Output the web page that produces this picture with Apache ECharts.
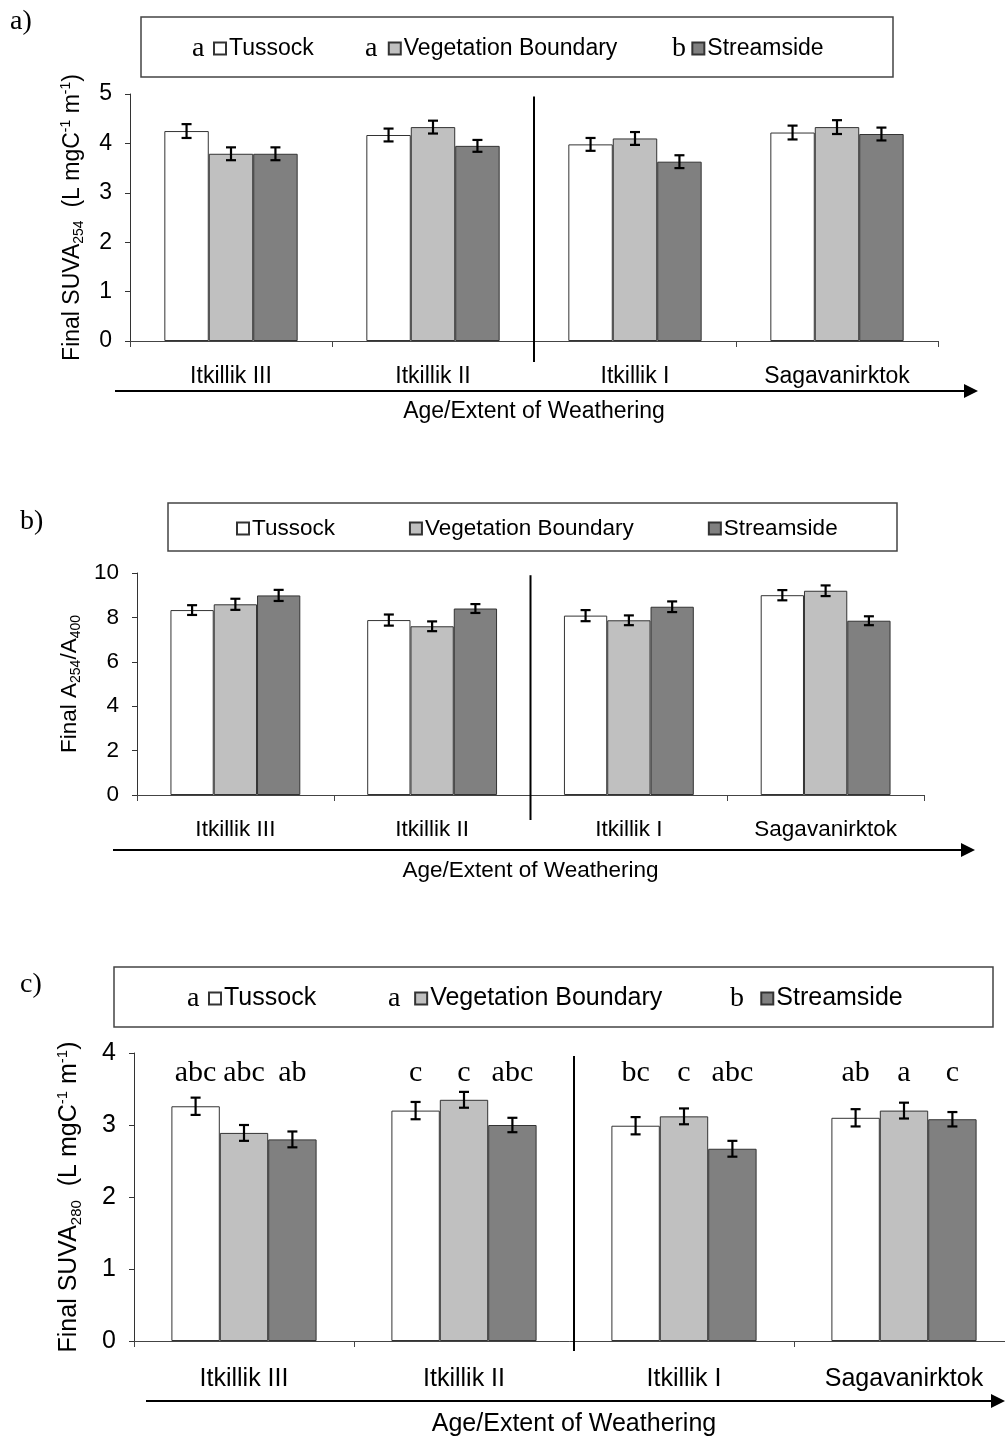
<!DOCTYPE html>
<html>
<head>
<meta charset="UTF-8">
<title>Final SUVA and A254/A400 by site</title>
<script src="https://cdn.jsdelivr.net/npm/echarts@6/dist/echarts.min.js"></script>
<style>body{margin:0;background:#fff}</style>
</head>
<body>
<div id="main" style="width:1005px;height:1439px;"></div>
<script type="text/javascript">
var categories = ['Itkillik III', 'Itkillik II', 'Itkillik I', 'Sagavanirktok'];
var siteNames = ['Tussock', 'Vegetation Boundary', 'Streamside'];
var siteColors = ['#ffffff', '#c0c0c0', '#808080'];

// a) final SUVA254, one row per site (Tussock, Vegetation Boundary, Streamside)
var suva254 = [[4.25, 4.17, 3.98, 4.22], [3.79, 4.33, 4.10, 4.33], [3.79, 3.95, 3.63, 4.19]];
var suva254Err = [[0.14, 0.13, 0.13, 0.14], [0.13, 0.13, 0.13, 0.14], [0.13, 0.12, 0.13, 0.13]];

// b) final A254/A400
var ratio = [[8.33, 7.88, 8.08, 9.00], [8.59, 7.60, 7.87, 9.20], [8.99, 8.40, 8.48, 7.85]];
var ratioErr = [[0.22, 0.25, 0.25, 0.23], [0.25, 0.22, 0.22, 0.24], [0.25, 0.20, 0.24, 0.20]];

// c) final SUVA280
var suva280 = [[3.26, 3.20, 2.99, 3.10], [2.89, 3.35, 3.12, 3.20], [2.80, 3.00, 2.67, 3.08]];
var suva280Err = [[0.12, 0.12, 0.12, 0.12], [0.11, 0.11, 0.11, 0.11], [0.11, 0.10, 0.11, 0.10]];
var suva280Letters = [['abc', 'c', 'bc', 'ab'], ['abc', 'c', 'c', 'a'], ['ab', 'abc', 'abc', 'c']];

var legendLetters = ['a', 'a', 'b'];
var xName = 'Age/Extent of Weathering';

var SANS = '"Liberation Sans", Arial, sans-serif';
var SERIF = '"Liberation Serif", "Times New Roman", serif';
var BAR_PCT = 0.22;

var panels = [
  {
    tag: 'a)', tagPos: [10, 22],
    grid: { left: 130, top: 94, width: 808, height: 247 },
    max: 5, interval: 1, values: suva254, errs: suva254Err, font: 23,
    yName: '{t|Final SUVA}{s|254}{t|  (L mgC}{p|-1}{t| m}{p|-1}{t|)}', yGap: 44,
    labelMargin: 24, xGap: 59, sepExt: 21,
    box: [141, 17, 752, 60], legend: { left: 213, top: 37, gap: 74 },
    letters: legendLetters, letterX: [192, 365, 672],
    arrow: [115, 978, 391]
  },
  {
    tag: 'b)', tagPos: [20, 522],
    grid: { left: 137, top: 573, width: 787, height: 222 },
    max: 10, interval: 2, values: ratio, errs: ratioErr, font: 22.5,
    yName: '{t|Final A}{s|254}{t|/A}{s|400}', yGap: 52,
    labelMargin: 23, xGap: 64, sepExt: 25,
    box: [168, 503, 729, 48], legend: { left: 236, top: 517, gap: 74 },
    letters: null,
    arrow: [113, 975, 850]
  },
  {
    tag: 'c)', tagPos: [20, 985],
    grid: { left: 134, top: 1053, width: 880, height: 288 },
    max: 4, interval: 1, values: suva280, errs: suva280Err, font: 25,
    yName: '{t|Final SUVA}{s|280}{t|  (L mgC}{p|-1}{t| m}{p|-1}{t|)}', yGap: 50,
    labelMargin: 26, xGap: 71, sepExt: 10,
    box: [114, 967, 879, 60], legend: { left: 208, top: 986, gap: 98 },
    letters: legendLetters, letterX: [187, 388, 730],
    arrow: [146, 1005, 1401],
    barLetters: suva280Letters, letterLevel: 3.72
  }
];

function errorBarRender(params, api) {
  var cat = api.value(0), v = api.value(1), e = api.value(2), s = api.value(3);
  var band = api.size([1, 0])[0];
  var hi = api.coord([cat, v + e]);
  var lo = api.coord([cat, v - e]);
  var x = hi[0] + (s - 1) * band * BAR_PCT;
  var cap = 5;
  var st = { stroke: '#000', lineWidth: 2.2 };
  return {
    type: 'group',
    children: [
      { type: 'line', shape: { x1: x, y1: hi[1], x2: x, y2: lo[1] }, style: st },
      { type: 'line', shape: { x1: x - cap, y1: hi[1], x2: x + cap, y2: hi[1] }, style: st },
      { type: 'line', shape: { x1: x - cap, y1: lo[1], x2: x + cap, y2: lo[1] }, style: st }
    ]
  };
}

function separatorRender(ext) {
  return function (params, api) {
    var cat = api.value(0), top = api.value(1);
    var p1 = api.coord([cat, top]);
    var p2 = api.coord([cat + 1, top]);
    var base = api.coord([cat, 0]);
    var x = (p1[0] + p2[0]) / 2;
    return {
      type: 'line',
      shape: { x1: x, y1: p1[1], x2: x, y2: base[1] + ext },
      style: { stroke: '#000', lineWidth: 2 }
    };
  };
}

function letterRender(letters) {
  return function (params, api) {
    var cat = api.value(0), lvl = api.value(1), s = api.value(2);
    var band = api.size([1, 0])[0];
    var p = api.coord([cat, lvl]);
    return {
      type: 'text',
      x: p[0] + (s - 1) * band * BAR_PCT,
      y: p[1],
      style: {
        text: letters[s][cat], fill: '#000', fontSize: 30, fontFamily: SERIF,
        align: 'center', verticalAlign: 'middle'
      }
    };
  };
}

var option = {
  backgroundColor: '#fff',
  animation: false,
  grid: [], xAxis: [], yAxis: [], legend: [], series: [], graphic: []
};

panels.forEach(function (pn, i) {
  option.grid.push(Object.assign({ outerBoundsMode: 'none', containLabel: false }, pn.grid));

  option.xAxis.push({
    type: 'category', gridIndex: i, data: categories,
    axisLine: { lineStyle: { color: '#444', width: 1 } },
    axisTick: { show: true, length: 6, lineStyle: { color: '#444' } },
    axisLabel: { color: '#000', fontSize: pn.font, fontFamily: SANS, margin: pn.labelMargin },
    name: xName, nameLocation: 'middle', nameGap: pn.xGap,
    nameTextStyle: { color: '#000', fontSize: pn.font, fontFamily: SANS },
    splitLine: { show: false }
  });

  var nm = pn.font;
  option.yAxis.push({
    type: 'value', gridIndex: i, min: 0, max: pn.max, interval: pn.interval,
    axisLine: { show: true, lineStyle: { color: '#333', width: 1 } },
    axisTick: { show: true, length: 5, lineStyle: { color: '#333' } },
    axisLabel: { color: '#000', fontSize: pn.font, fontFamily: SANS, margin: 18 },
    splitLine: { show: false },
    name: pn.yName, nameLocation: 'middle', nameRotate: 90, nameGap: pn.yGap,
    nameTextStyle: {
      rich: {
        t: { fontSize: nm, fontFamily: SANS, color: '#000', lineHeight: nm + 4 },
        s: { fontSize: Math.round(nm * 0.6), fontFamily: SANS, color: '#000', verticalAlign: 'bottom' },
        p: { fontSize: Math.round(nm * 0.6), fontFamily: SANS, color: '#000', verticalAlign: 'top' }
      }
    }
  });

  option.legend.push({
    data: siteNames, left: pn.legend.left, top: pn.legend.top, itemGap: pn.legend.gap,
    padding: 0, itemWidth: 12, itemHeight: 12, icon: 'rect', selectedMode: false,
    textStyle: { color: '#000', fontSize: pn.font, fontFamily: SANS, padding: [0, 0, 0, -2] }
  });

  siteNames.forEach(function (name, s) {
    option.series.push({
      type: 'bar', name: name, xAxisIndex: i, yAxisIndex: i,
      data: pn.values[s], barWidth: (BAR_PCT * 100) + '%', barGap: '0%',
      itemStyle: { color: siteColors[s], borderColor: '#333', borderWidth: 1 },
      z: 2
    });
  });

  var errData = [];
  pn.values.forEach(function (row, s) {
    row.forEach(function (v, c) { errData.push([c, v, pn.errs[s][c], s]); });
  });
  option.series.push({
    type: 'custom', xAxisIndex: i, yAxisIndex: i, renderItem: errorBarRender,
    encode: { x: 0, y: 1 }, data: errData, z: 5, silent: true
  });

  option.series.push({
    type: 'custom', xAxisIndex: i, yAxisIndex: i, renderItem: separatorRender(pn.sepExt),
    encode: { x: 0, y: 1 }, data: [[1, pn.max * 0.99]], z: 5, silent: true
  });

  if (pn.barLetters) {
    var letterData = [];
    pn.barLetters.forEach(function (row, s) {
      row.forEach(function (t, c) { letterData.push([c, pn.letterLevel, s]); });
    });
    option.series.push({
      type: 'custom', xAxisIndex: i, yAxisIndex: i, renderItem: letterRender(pn.barLetters),
      encode: { x: 0, y: 1 }, data: letterData, z: 5, silent: true
    });
  }

  // panel tag
  option.graphic.push({
    type: 'text', x: pn.tagPos[0], y: pn.tagPos[1],
    style: { text: pn.tag, fontSize: 28, fontFamily: SERIF, fill: '#000', verticalAlign: 'middle' }
  });
  // legend frame
  option.graphic.push({
    type: 'rect', shape: { x: pn.box[0], y: pn.box[1], width: pn.box[2], height: pn.box[3] },
    style: { fill: 'none', stroke: '#444', lineWidth: 1.5 }, z: -1
  });
  // significance letters in legend
  if (pn.letters) {
    pn.letters.forEach(function (t, k) {
      option.graphic.push({
        type: 'text', x: pn.letterX[k], y: pn.box[1] + pn.box[3] / 2 + 2,
        style: { text: t, fontSize: 28, fontFamily: SERIF, fill: '#000', verticalAlign: 'middle' }
      });
    });
  }
  // weathering arrow
  var a = pn.arrow;
  option.graphic.push({
    type: 'group', children: [
      { type: 'line', shape: { x1: a[0], y1: a[2], x2: a[1] - 12, y2: a[2] }, style: { stroke: '#000', lineWidth: 2 } },
      { type: 'polygon', shape: { points: [[a[1] - 14, a[2] - 7], [a[1], a[2]], [a[1] - 14, a[2] + 7]] }, style: { fill: '#000' } }
    ]
  });
});

var myChart = echarts.init(document.getElementById('main'));
myChart.setOption(option);
</script>
</body>
</html>
